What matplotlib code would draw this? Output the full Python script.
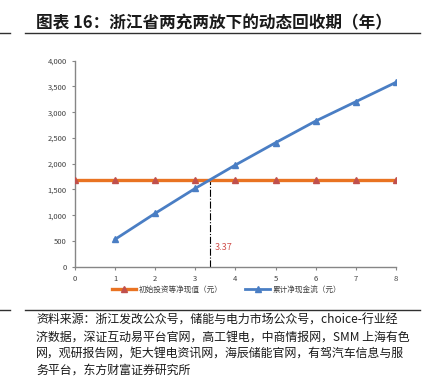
import matplotlib
matplotlib.use("Agg")
import matplotlib.pyplot as plt
from matplotlib.lines import Line2D

plt.rcParams['font.family'] = ['Noto Sans CJK SC', 'DejaVu Sans']

# data
years = [0, 1, 2, 3, 4, 5, 6, 7, 8]
init_npv = [1690, 1690, 1690, 1690, 1690, 1690, 1690, 1690, 1690]
cum_years = [1, 2, 3, 4, 5, 6, 7, 8]
cum_cash = [532, 1037, 1522, 1975, 2408, 2829, 3204, 3580]
payback = 3.37
yticks = [0, 500, 1000, 1500, 2000, 2500, 3000, 3500, 4000]

title = "图表 16：浙江省两充两放下的动态回收期（年）"
label_init = "初始投资等净现值（元）"
label_cum = "累计净现金流（元）"
source_lines = [
    "资料来源：浙江发改公众号，储能与电力市场公众号，choice-行业经",
    "济数据，深证互动易平台官网，高工锂电，中商情报网，SMM 上海有色",
    "网，观研报告网，矩大锂电资讯网，海辰储能官网，有驾汽车信息与服",
    "务平台，东方财富证券研究所",
]

orange = "#E97322"
red = "#C0504D"
blue = "#4A7EC4"
gray = "#868686"

fig = plt.figure(figsize=(4.27, 3.79), dpi=100)
ax = fig.add_axes([0.1756, 0.2963, 0.7518, 0.5436])

ax.plot(years, init_npv, color=orange, lw=2.4, marker="^", ms=4.5,
        mfc=red, mec=red, label=label_init, zorder=3)
ax.plot(cum_years, cum_cash, color=blue, lw=2.0, marker="^", ms=4.5,
        mfc=blue, mec=blue, label=label_cum, zorder=3)
ax.plot([payback, payback], [0, init_npv[0]], color="black", lw=0.8,
        ls="-.", zorder=2)
ax.text(payback + 0.12, 370, f"{payback:.2f}", color="#D0504D",
        fontsize=6.5, va="center", ha="left")

ax.set_xlim(0, 8)
ax.set_ylim(0, 4000)
ax.set_xticks(years)
ax.set_yticks(yticks)
ax.set_yticklabels([f"{v:,}" for v in yticks])
ax.tick_params(labelsize=5.5, colors="#404040", length=2.5, width=0.8)
ax.tick_params(axis="both", color=gray)
for s in ["top", "right"]:
    ax.spines[s].set_visible(False)
for s in ["left", "bottom"]:
    ax.spines[s].set_color(gray)
    ax.spines[s].set_linewidth(1.0)

fig.legend(loc="center", bbox_to_anchor=(0.53, 0.235), ncol=2,
           frameon=False, fontsize=5.5, handlelength=3.2, columnspacing=3.0,
           handletextpad=0.3, labelcolor="#404040")

# title and rules
fig.text(0.5, 0.939, title, ha="center", va="center", fontsize=12,
         fontweight="bold", color="#1a1a1a")
fig.add_artist(Line2D([25 / 427, 420 / 427], [0.913, 0.913],
                      color="#303030", lw=1.0))
fig.add_artist(Line2D([0, 10 / 427], [0.913, 0.913], color="#303030", lw=1.0))
fig.add_artist(Line2D([25 / 427, 420 / 427], [1 - 309.5 / 379, 1 - 309.5 / 379],
                      color="#303030", lw=1.0))
fig.add_artist(Line2D([0, 10 / 427], [1 - 309.5 / 379, 1 - 309.5 / 379],
                      color="#303030", lw=1.0))

for i, line in enumerate(source_lines):
    y = 320.5 + i * 16.4
    fig.text(36 / 427, 1 - y / 379, line, ha="left", va="center",
             fontsize=8.6, color="#1a1a1a")

fig.savefig("out.png", dpi=100)
